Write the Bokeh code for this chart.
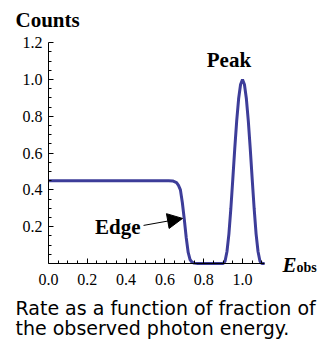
from bokeh.plotting import figure
from bokeh.models import Range1d, FixedTicker, PrintfTickFormatter, Label, Arrow, NormalHead
from bokeh.embed import file_html
from bokeh.resources import INLINE

# Curve: counts vs fraction of observed photon energy
energy = [0.0, 0.1, 0.2, 0.3, 0.4, 0.5, 0.6, 0.62, 0.64, 0.66, 0.67, 0.68, 0.69, 0.70,
          0.71, 0.72, 0.73, 0.74, 0.75, 0.77, 0.8, 0.85, 0.88, 0.90, 0.91, 0.92, 0.93,
          0.94, 0.95, 0.96, 0.97, 0.98, 0.99, 1.0, 1.01, 1.02, 1.03, 1.04, 1.05, 1.06,
          1.07, 1.08, 1.09, 1.10, 1.114]
counts = [0.45, 0.45, 0.45, 0.45, 0.45, 0.45, 0.45, 0.45, 0.449, 0.44, 0.425, 0.40, 0.33, 0.24,
          0.14, 0.06, 0.02, 0.007, 0.002, 0.0, 0.0, 0.0, 0.0, 0.0, 0.012, 0.065, 0.161,
          0.299, 0.459, 0.623, 0.774, 0.895, 0.973, 1.0, 0.973, 0.895, 0.774, 0.623, 0.459, 0.299,
          0.161, 0.065, 0.012, 0.0, 0.0]

x_ticks = [0.0, 0.2, 0.4, 0.6, 0.8, 1.0]
x_minor = [0.05, 0.1, 0.15, 0.25, 0.3, 0.35, 0.45, 0.5, 0.55, 0.65, 0.7, 0.75,
           0.85, 0.9, 0.95, 1.05, 1.1]
y_ticks = [0.2, 0.4, 0.6, 0.8, 1.0, 1.2]
y_minor = [0.05, 0.1, 0.15, 0.25, 0.3, 0.35, 0.45, 0.5, 0.55, 0.65, 0.7, 0.75,
           0.85, 0.9, 0.95, 1.05, 1.1, 1.15]

SERIF = "Liberation Serif"
LINE = "#3d3d99"
W, H = 321, 340

# frame covers the whole canvas; axes are pinned at the origin (Mathematica style)
p = figure(width=W, height=H,
           x_range=Range1d(-0.2474, 1.4072), y_range=Range1d(-0.4185, 1.4293),
           output_backend="svg", toolbar_location=None,
           min_border_left=0, min_border_right=0, min_border_top=0, min_border_bottom=0)
p.xgrid.visible = False
p.ygrid.visible = False
p.outline_line_color = None
p.background_fill_color = "white"
p.border_fill_color = "white"

for ax, ticks, minor, bnds, standoff in ((p.xaxis[0], x_ticks, x_minor, (0, 1.114), 11),
                                         (p.yaxis[0], y_ticks, y_minor, (0, 1.2), 6)):
    ax.fixed_location = 0
    ax.bounds = bnds
    ax.ticker = FixedTicker(ticks=ticks, minor_ticks=minor)
    ax.formatter = PrintfTickFormatter(format="%.1f")
    ax.axis_line_color = "black"
    ax.axis_line_width = 1
    ax.major_tick_in = 5
    ax.major_tick_out = 0
    ax.minor_tick_in = 3
    ax.minor_tick_out = 0
    ax.major_tick_line_color = "black"
    ax.minor_tick_line_color = "black"
    ax.major_label_text_font = SERIF
    ax.major_label_text_font_size = "16px"
    ax.major_label_text_color = "black"
    ax.major_label_standoff = standoff

p.line(energy, counts, line_color=LINE, line_width=3)

def lab(x, y, t, size, style="bold", align="left", font=SERIF):
    p.add_layout(Label(x=x, y=y, text=t, text_font=font, text_font_size=size,
                       text_font_style=style, text_align=align, text_baseline="alphabetic",
                       text_color="black"))

lab(-0.170, 1.323, "Counts", "21px")
lab(0.930, 1.105, "Peak", "21px", align="center")
lab(0.474, 0.198, "Edge", "21px", align="right")
lab(1.206, -0.008, "E", "21px", style="bold italic")
lab(1.278, -0.024, "obs", "14px")

p.add_layout(Arrow(x_start=0.490, y_start=0.207, x_end=0.691, y_end=0.245,
                   line_color="black", line_width=1,
                   end=NormalHead(size=15, fill_color="black", line_color="black")))

lab(-0.170, -0.242, "Rate as a function of fraction of", "19px", style="normal", font="DejaVu Sans")
lab(-0.170, -0.350, "the observed photon energy.", "19px", style="normal", font="DejaVu Sans")

open("out.html", "w").write(file_html(p, INLINE))
